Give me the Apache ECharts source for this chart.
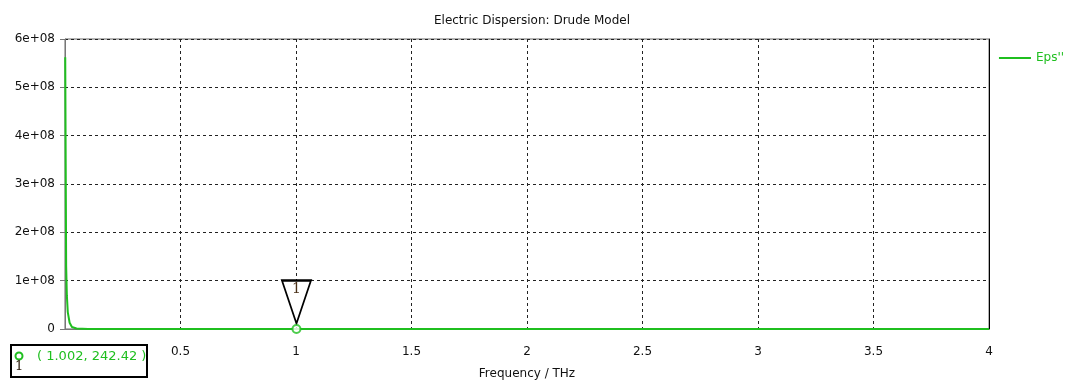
<!DOCTYPE html>
<html>
<head>
<meta charset="utf-8">
<script src="https://cdn.jsdelivr.net/npm/echarts@6/dist/echarts.min.js"></script>
<style>
  html, body { margin: 0; padding: 0; background: #fff; }
  #chart { width: 1074px; height: 381px; }
</style>
</head>
<body>
<div id="chart"></div>
<script>
// Drude model imaginary permittivity, Eps'' versus frequency (THz)
const frequency = [0.001, 0.003, 0.005, 0.008, 0.012, 0.02, 0.03, 0.05, 0.1, 0.2, 0.5, 1.002, 1.5, 2, 2.5, 3, 3.5, 4];
const epsImag   = [5.62e8, 3.42e8, 1.3e8, 7e7, 3.5e7, 1.3e7, 4e6, 1e6, 2.4e5, 3e4, 1950, 242.42, 72, 30, 15.6, 9, 5.7, 3.8];

// Marker 1 read-out
const markerId = '1';
const markerFreq = 1.002;
const markerValue = 242.42;

const xTicks = [0, 0.5, 1, 1.5, 2, 2.5, 3, 3.5, 4];
const yTicks = [0, 1e8, 2e8, 3e8, 4e8, 5e8, 6e8];

const GREEN = '#1fbf1f';
const FONT = 'DejaVu Sans';

const chart = echarts.init(document.getElementById('chart'), null, { renderer: 'canvas' });

const fmtY = v => v === 0 ? '0' : (v / 1e8) + 'e+08';

chart.setOption({
  animation: false,
  backgroundColor: '#fff',
  textStyle: { fontFamily: FONT },
  title: {
    text: 'Electric Dispersion: Drude Model',
    left: 527, top: 10, textAlign: 'center',
    textStyle: { fontFamily: FONT, fontSize: 12, fontWeight: 'normal', color: '#111' }
  },
  legend: {
    data: [{ name: "Eps''", icon: 'rect' }],
    right: 5, top: 47,
    itemWidth: 32, itemHeight: 2, itemGap: 6,
    textStyle: { fontFamily: FONT, fontSize: 12, color: GREEN }
  },
  grid: {
    left: 65, right: 85, top: 39, bottom: 52,
    outerBoundsMode: 'none', containLabel: false,
    show: true, borderColor: '#666', borderWidth: 1
  },
  xAxis: {
    type: 'value',
    min: xTicks[0], max: xTicks[xTicks.length - 1], interval: 0.5,
    name: 'Frequency / THz', nameLocation: 'middle', nameGap: 39,
    nameTextStyle: { fontFamily: FONT, fontSize: 12, color: '#111' },
    axisLine: { show: true, onZero: false, lineStyle: { color: '#777' } },
    axisTick: { show: false },
    axisLabel: {
      margin: 17, fontFamily: FONT, fontSize: 12, color: '#111',
      formatter: v => v === 0 ? '' : String(v)
    },
    splitLine: { show: true, lineStyle: { color: '#222', type: [3, 3], width: 1 } }
  },
  yAxis: [{
    type: 'value',
    min: yTicks[0], max: yTicks[yTicks.length - 1], interval: 1e8,
    axisLine: { show: true, lineStyle: { color: '#777' } },
    axisTick: { show: true, length: 5, lineStyle: { color: '#777' } },
    axisLabel: { margin: 10, fontFamily: FONT, fontSize: 12, color: '#111', formatter: fmtY },
    splitLine: { show: true, lineStyle: { color: '#222', type: [3, 3], width: 1 } }
  }, {
    type: 'value', position: 'right',
    min: yTicks[0], max: yTicks[yTicks.length - 1], interval: 1e8,
    axisLine: { show: true, lineStyle: { color: '#000' } },
    axisTick: { show: false }, axisLabel: { show: false }, splitLine: { show: false }
  }],
  series: [{
    name: "Eps''",
    type: 'line',
    data: frequency.map((f, i) => [f, epsImag[i]]),
    symbol: 'none',
    lineStyle: { color: GREEN, width: 2 },
    itemStyle: { color: GREEN },
    z: 3
  }, {
    name: 'marker',
    type: 'scatter',
    data: [[markerFreq, markerValue]],
    symbol: 'circle', symbolSize: 8,
    itemStyle: { color: '#fff', borderColor: GREEN, borderWidth: 2 },
    z: 5,
    markPoint: {
      data: [{ coord: [markerFreq, markerValue] }],
      symbol: 'path://M0,0 L30,0 L15,44 Z',
      symbolSize: [29, 43],
      symbolOffset: [0, -27],
      itemStyle: { color: '#fff', borderColor: '#000', borderWidth: 2 },
      label: {
        show: true, formatter: markerId, offset: [0, -13],
        fontFamily: 'DejaVu Serif', fontSize: 14, color: '#4a3018'
      },
      silent: true
    }
  }],
  graphic: [{
    type: 'group', left: 10, top: 344,
    children: [
      { type: 'rect', shape: { x: 0, y: 0, width: 136, height: 32 },
        style: { fill: '#fff', stroke: '#000', lineWidth: 2 } },
      { type: 'circle', shape: { cx: 8, cy: 11, r: 3.5 },
        style: { fill: '#fff', stroke: GREEN, lineWidth: 2 } },
      { type: 'text', x: 4, y: 15,
        style: { text: markerId, fontFamily: 'DejaVu Serif', fontSize: 13, fill: '#2a1a0a' } },
      { type: 'text', x: 26, y: 5,
        style: { text: '( ' + markerFreq.toFixed(3) + ', ' + markerValue.toFixed(2) + ' )',
                 fontFamily: FONT, fontSize: 13, fill: GREEN } }
    ]
  }]
});
</script>
</body>
</html>
